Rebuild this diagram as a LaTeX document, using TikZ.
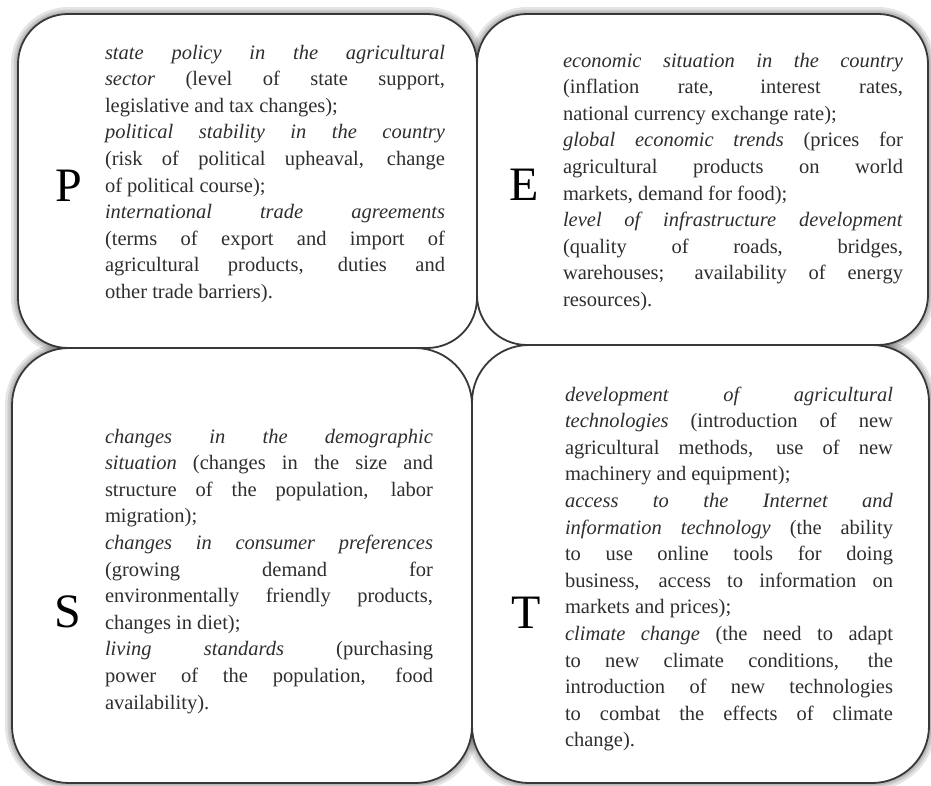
\documentclass[tikz,border=0pt]{standalone}
\usepackage{fontspec}
\setmainfont{Liberation Serif}
\tolerance=10000
\hyphenpenalty=10000
\hbadness=10000
\begin{document}
\begin{tikzpicture}[x=1pt,y=-1pt,
  glowpath/.style={draw=black, line width=#1, draw opacity=0.10},
  box/.style={draw=black!78, line width=1.8pt, fill=white, inner sep=0pt, outer sep=0pt},
  txt/.style={inner sep=0pt, outer sep=0pt, anchor=north west, align=justify,
    font=\fontsize{20.5}{26.6}\selectfont, text=black!82},
  letter/.style={inner sep=0pt, outer sep=0pt, anchor=base,
    font=\fontsize{48}{48}\selectfont, text=black}]
\useasboundingbox[fill=white] (0,0) rectangle (931,785);
% soft outer shadow (glow)
\foreach \w in {14pt,9pt,5pt}{
  \draw[glowpath=\w, rounded corners=50pt] (18,14) rectangle (477,348);
  \draw[glowpath=\w, rounded corners=50pt] (477,14) rectangle (928,345);
  \draw[glowpath=\w, rounded corners=57pt] (12,348) rectangle (472,783);
  \draw[glowpath=\w, rounded corners=57pt] (472,345) rectangle (929,783);
}
% no shadow in the central gap between the four boxes
\fill[white] (415,290) rectangle (535,405);
% boxes
\node[box, rounded corners=50pt, minimum width=459pt, minimum height=334pt] (boxP) at (247.5,181) {};
\node[box, rounded corners=50pt, minimum width=451pt, minimum height=331pt] (boxE) at (702.5,179.5) {};
\node[box, rounded corners=57pt, minimum width=460pt, minimum height=435pt] (boxS) at (242,565.5) {};
\node[box, rounded corners=57pt, minimum width=457pt, minimum height=438pt] (boxT) at (700.5,564) {};
% letters
\node[letter] (lP) at (69,201) {P};
\node[letter] (lE) at (524,200) {E};
\node[letter] (lS) at (68,627) {S};
\node[letter] (lT) at (526,628) {T};
% texts
\node[txt, text width=340pt] (tP) at (105,43) {\rule{0pt}{16pt}\textit{state policy in the agricultural}\linebreak
\textit{sector} (level of state support,\linebreak
legislative and tax changes);\par
\textit{political stability in the country}\linebreak
(risk of political upheaval, change\linebreak
of political course);\par
\textit{international trade agreements}\linebreak
(terms of export and import of\linebreak
agricultural products, duties and\linebreak
other trade barriers).};
\node[txt, text width=340pt] (tE) at (563,51) {\rule{0pt}{16pt}\textit{economic situation in the country}\linebreak
(inflation rate, interest rates,\linebreak
national currency exchange rate);\par
\textit{global economic trends} (prices for\linebreak
agricultural products on world\linebreak
markets, demand for food);\par
\textit{level of infrastructure development}\linebreak
(quality of roads, bridges,\linebreak
warehouses; availability of energy\linebreak
resources).};
\node[txt, text width=328pt] (tS) at (105,427) {\rule{0pt}{16pt}\textit{changes in the demographic}\linebreak
\textit{situation} (changes in the size and\linebreak
structure of the population, labor\linebreak
migration);\par
\textit{changes in consumer preferences}\linebreak
(growing demand for\linebreak
environmentally friendly products,\linebreak
changes in diet);\par
\textit{living standards} (purchasing\linebreak
power of the population, food\linebreak
availability).};
\node[txt, text width=328pt] (tT) at (565,385) {\rule{0pt}{16pt}\textit{development of agricultural}\linebreak
\textit{technologies} (introduction of new\linebreak
agricultural methods, use of new\linebreak
machinery and equipment);\par
\textit{access to the Internet and}\linebreak
\textit{information technology} (the ability\linebreak
to use online tools for doing\linebreak
business, access to information on\linebreak
markets and prices);\par
\textit{climate change} (the need to adapt\linebreak
to new climate conditions, the\linebreak
introduction of new technologies\linebreak
to combat the effects of climate\linebreak
change).};
\end{tikzpicture}
\end{document}
